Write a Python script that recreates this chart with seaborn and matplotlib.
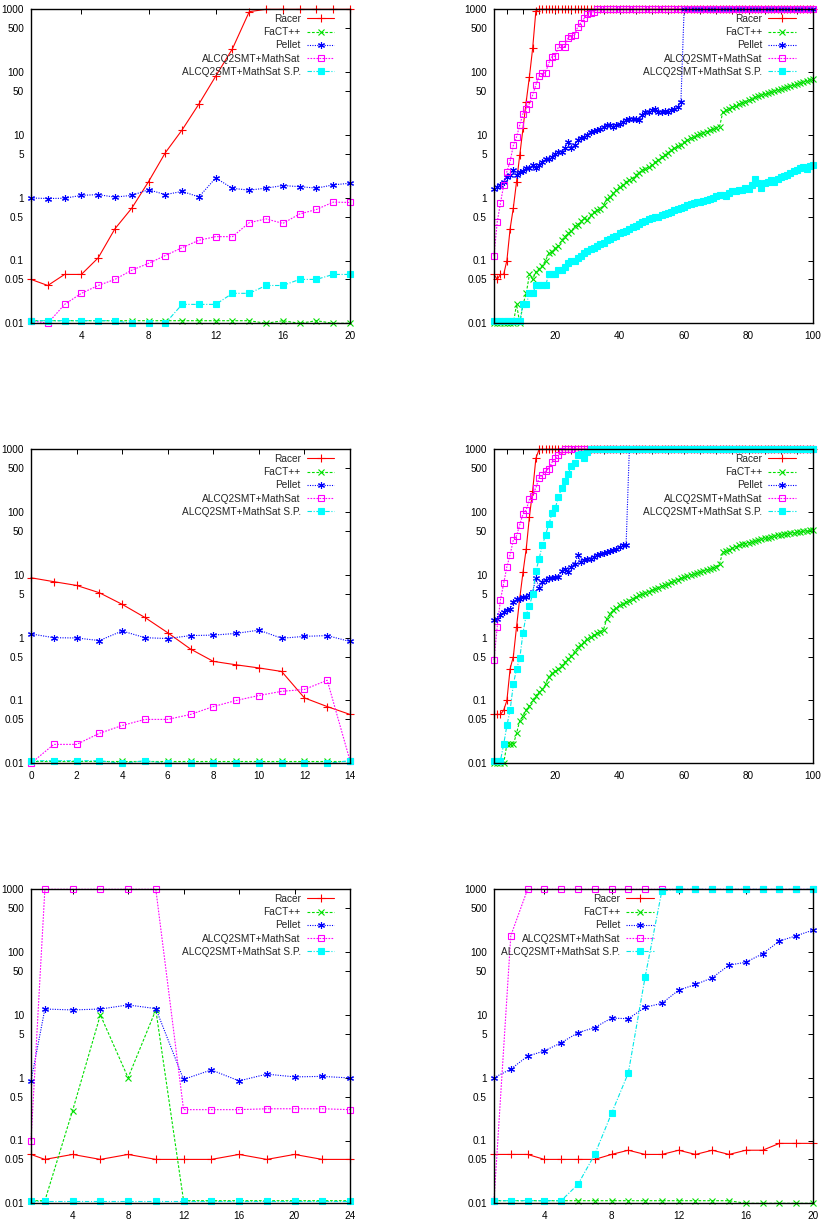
import matplotlib
matplotlib.use("Agg")
import matplotlib.pyplot as plt
from matplotlib.ticker import FixedLocator, FixedFormatter, MultipleLocator, NullLocator
import seaborn as sns

sns.set_style("white")
plt.rcParams["font.family"] = ["Liberation Sans", "DejaVu Sans"]

TOOLS = ["Racer", "FaCT++", "Pellet", "ALCQ2SMT+MathSat", "ALCQ2SMT+MathSat S.P."]
Y_TICKS = [0.01, 0.05, 0.1, 0.5, 1, 5, 10, 50, 100, 500, 1000]
Y_LABELS = ["0.01", "0.05", "0.1", "0.5", "1", "5", "10", "50", "100", "500", "1000"]

# ---------------------------------------------------------------
# panel a (top left)
# ---------------------------------------------------------------
x_a = list(range(1, 21))
racer_a = [0.05, 0.04, 0.06, 0.06, 0.11, 0.32, 0.68, 1.8, 5.2, 12, 31, 86, 236, 917,
           1000, 1000, 1000, 1000, 1000, 1000]
fact_a = [0.011, 0.011, 0.011, 0.011, 0.011, 0.011, 0.011, 0.011, 0.011, 0.011,
          0.011, 0.011, 0.011, 0.011, 0.01, 0.011, 0.01, 0.011, 0.01, 0.01]
pellet_a = [0.99, 0.97, 0.98, 1.09, 1.12, 1.02, 1.09, 1.34, 1.12, 1.26,
            1.03, 2.06, 1.41, 1.32, 1.42, 1.56, 1.5, 1.42, 1.6, 1.7]
mathsat_a = [0.011, 0.01, 0.02, 0.03, 0.04, 0.05, 0.07, 0.09, 0.12, 0.16,
             0.21, 0.24, 0.24, 0.4, 0.46, 0.39, 0.55, 0.65, 0.85, 0.84]
sp_a = [0.011, 0.011, 0.011, 0.011, 0.011, 0.011, 0.01, 0.01, 0.01, 0.02,
        0.02, 0.02, 0.03, 0.03, 0.04, 0.04, 0.05, 0.05, 0.06, 0.06]

# ---------------------------------------------------------------
# panel b (top right)
# ---------------------------------------------------------------
x_b = list(range(1, 101))
racer_b = [0.06, 0.05, 0.06, 0.06, 0.1, 0.32, 0.69, 1.8, 4.8, 12.7, 34, 85, 240, 950] + [1000] * 86
fact_b = [0.01, 0.01, 0.01, 0.01, 0.01, 0.01, 0.01, 0.02, 0.01, 0.02,
          0.03, 0.06, 0.05, 0.066, 0.074, 0.083, 0.1, 0.13, 0.135, 0.16,
          0.17, 0.21, 0.24, 0.27, 0.29, 0.35, 0.37, 0.42, 0.47, 0.44,
          0.53, 0.59, 0.63, 0.67, 0.76, 0.97, 1.03, 1.17, 1.32, 1.5,
          1.6, 1.8, 1.9, 2.0, 2.3, 2.5, 2.75, 2.9, 3.1, 3.3,
          3.7, 4.0, 4.4, 4.8, 5.2, 5.7, 6.1, 6.6, 7.0, 7.6,
          8.2, 8.8, 9.2, 9.8, 10.3, 10.8, 11.2, 11.8, 12.4, 12.9,
          13.5, 23, 24.5, 26, 27.5, 29, 31, 32.5, 34, 35.5,
          37.5, 39.5, 41, 43, 44.5, 46, 48, 50, 52, 54,
          56, 58, 60, 62, 64.5, 67, 70, 72.5, 76, 79]
pellet_b = [1.4, 1.48, 1.58, 1.79, 2.15, 2.28, 2.75, 2.28, 2.58, 2.65,
            2.92, 2.92, 3.3, 2.92, 3.3, 3.7, 4.2, 4.2, 4.5, 5.0,
            5.4, 5.4, 6.1, 7.8, 6.1, 6.9, 8.3, 8.8, 9.3, 9.9,
            11.2, 11.5, 11.9, 12.6, 13.4, 14.3, 14.3, 13.4, 14.3, 15.1,
            16.1, 17.1, 18.2, 18.2, 18.2, 17.1, 20.5, 23.1, 23.1, 24.5,
            26, 23, 23, 24, 23, 25, 26, 28, 33] + [1000] * 41
mathsat_b = [0.12, 0.41, 0.82, 1.57, 2.6, 3.8, 6.8, 9.3, 14.4, 21.9,
             26.3, 31.6, 43, 63, 87, 95, 98, 139, 176, 180,
             254, 276, 254, 353, 375, 389, 528, 612, 718, 843,
             885, 918] + [1000] * 68
sp_b = [0.011, 0.011, 0.011, 0.011, 0.011, 0.011, 0.011, 0.011, 0.011,
        0.02, 0.02, 0.03, 0.03, 0.04, 0.04, 0.04, 0.04, 0.06, 0.06, 0.06,
        0.07, 0.07, 0.08, 0.09, 0.1, 0.1, 0.11, 0.12, 0.13, 0.14,
        0.15, 0.16, 0.17, 0.18, 0.19, 0.21, 0.22, 0.24, 0.25, 0.27,
        0.28, 0.3, 0.32, 0.34, 0.36, 0.38, 0.41, 0.43, 0.45, 0.47,
        0.49, 0.5, 0.53, 0.55, 0.57, 0.6, 0.63, 0.65, 0.68, 0.72,
        0.76, 0.8, 0.82, 0.84, 0.86, 0.88, 0.91, 0.95, 1.0, 1.05,
        1.1, 1.12, 1.05, 1.2, 1.3, 1.3, 1.35, 1.35, 1.45, 1.4,
        1.6, 2.0, 1.7, 1.45, 1.7, 1.8, 1.9, 1.75, 2.0, 2.1,
        2.2, 2.3, 2.5, 2.7, 2.8, 3.0, 3.1, 2.9, 3.2, 3.3]

# ---------------------------------------------------------------
# panel c (middle left)
# ---------------------------------------------------------------
x_c = list(range(0, 15))
racer_c = [9, 7.8, 6.8, 5.2, 3.4, 2.1, 1.2, 0.66, 0.42, 0.37, 0.33, 0.29, 0.11, 0.08, 0.06]
fact_c = [0.011] * 15
pellet_c = [1.15, 1.0, 0.99, 0.9, 1.28, 1.0, 0.97, 1.08, 1.1, 1.17, 1.32, 0.98, 1.05, 1.08, 0.87]
mathsat_c = [0.01, 0.02, 0.02, 0.03, 0.04, 0.05, 0.05, 0.06, 0.08, 0.1, 0.12, 0.14, 0.15, 0.21, 0.011]
sp_c = [0.011, 0.011, 0.011, 0.011, 0.01, 0.011, 0.01, 0.01, 0.01, 0.01, 0.01, 0.01, 0.01, 0.01, 0.011]

# ---------------------------------------------------------------
# panel d (middle right)
# ---------------------------------------------------------------
x_d = list(range(1, 101))
racer_d = [0.06, 0.06, 0.06, 0.07, 0.1, 0.32, 0.5, 1.5, 4.3, 11, 26, 85, 220, 720] + [1000] * 86
fact_d = [0.01, 0.01, 0.01, 0.01, 0.02, 0.02, 0.02, 0.03, 0.048, 0.057,
          0.07, 0.083, 0.1, 0.12, 0.135, 0.15, 0.18, 0.24, 0.27, 0.29,
          0.32, 0.36, 0.41, 0.46, 0.52, 0.59, 0.71, 0.76, 0.86, 0.97,
          1.03, 1.1, 1.17, 1.24, 1.35, 2.0, 2.4, 2.75, 3.0, 3.3,
          3.5, 3.7, 3.9, 4.2, 4.4, 4.7, 4.9, 5.1, 5.4, 5.7,
          6.0, 6.3, 6.6, 6.9, 7.2, 7.6, 8.0, 8.4, 8.8, 9.1,
          9.5, 9.9, 10.3, 10.7, 11.1, 11.6, 12.0, 12.5, 13.0, 13.6,
          15, 23, 24, 25, 26.5, 28, 29.5, 30.5, 31.5, 32.5,
          33.5, 35, 36, 37, 38, 39, 40.5, 41.5, 42.5, 43.5,
          44.5, 45.5, 46.5, 47, 48, 48.5, 49.5, 50, 51, 51.5]
pellet_d = [1.9, 2.0, 2.3, 2.6, 2.75, 2.9, 3.7, 4.1, 4.2, 4.5,
            4.5, 4.8, 5.4, 8.8, 6.1, 7.8, 8.3, 8.8, 8.8, 9.3,
            9.3, 11.5, 12.4, 11.2, 13.4, 15.1, 20.5, 16.1, 17.1, 18.2,
            17.7, 19.4, 20.5, 21.7, 22.5, 23.1, 23.8, 25.3, 26, 27.9,
            29.5, 30] + [1000] * 58
mathsat_d = [0.44, 1.5, 4.0, 7.3, 13.5, 21, 36, 42, 63, 93,
             108, 160, 180, 245, 350, 390, 450, 490, 620, 720,
             810, 950] + [1000] * 78
sp_d = [0.011, 0.011, 0.011, 0.02, 0.04, 0.07, 0.18, 0.32, 0.47, 1.2,
        2.3, 3.2, 5.0, 11.5, 18, 30, 43, 64, 95, 115,
        176, 239, 313, 400, 550, 600, 812, 850, 737, 918] + [1000] * 70

# ---------------------------------------------------------------
# panel e (bottom left)
# ---------------------------------------------------------------
x_e = [1, 2, 4, 6, 8, 10, 12, 14, 16, 18, 20, 22, 24]
racer_e = [0.06, 0.05, 0.06, 0.05, 0.06, 0.05, 0.05, 0.05, 0.06, 0.05, 0.06, 0.05, 0.05]
fact_e = [0.011, 0.011, 0.3, 10, 1, 12, 0.011, 0.011, 0.011, 0.011, 0.011, 0.011, 0.011]
pellet_e = [0.89, 12.4, 12, 12.4, 14.4, 12.6, 0.94, 1.33, 0.89, 1.14, 1.03, 1.05, 0.99]
mathsat_e = [0.1, 1000, 1000, 1000, 1000, 1000, 0.31, 0.31, 0.31, 0.32, 0.32, 0.32, 0.31]
sp_e = [0.011] * 13

# ---------------------------------------------------------------
# panel f (bottom right)
# ---------------------------------------------------------------
x_f = list(range(1, 21))
racer_f = [0.06, 0.06, 0.06, 0.05, 0.05, 0.05, 0.05, 0.06, 0.07, 0.06,
           0.06, 0.07, 0.06, 0.07, 0.06, 0.07, 0.07, 0.09, 0.09, 0.09]
fact_f = [0.011] * 15 + [0.01] * 5
pellet_f = [1.0, 1.37, 2.2, 2.67, 3.6, 5.2, 6.3, 8.9, 8.7, 13.2,
            15.3, 24.8, 30.5, 39, 62, 69, 94, 150, 182, 224]
mathsat_f = [0.011, 182] + [1000] * 18
sp_f = [0.011, 0.011, 0.011, 0.011, 0.011, 0.02, 0.06, 0.27, 1.19, 40,
        950] + [1000] * 9

# ---------------------------------------------------------------
# styles and layout
# ---------------------------------------------------------------
STYLES = [
    dict(color="#ff0000", linestyle="-", marker="+", markersize=5.5, markerfacecolor="#ff0000",
         markeredgecolor="#ff0000"),
    dict(color="#00e000", linestyle=(0, (2.5, 1.5)), marker="x", markersize=4.5,
         markerfacecolor="#00e000", markeredgecolor="#00e000"),
    dict(color="#0000ff", linestyle=(0, (1, 1.2)), marker=(6, 2, 0), markersize=5,
         markerfacecolor="#0000ff", markeredgecolor="#0000ff"),
    dict(color="#ff00ff", linestyle=(0, (1.5, 1.2)), marker="s", markersize=4.5,
         markerfacecolor="none", markeredgecolor="#ff00ff"),
    dict(color="#00e8e8", linestyle=(0, (4, 1.5, 1, 1.5)), marker="s", markersize=4.5,
         markerfacecolor="#00ffff", markeredgecolor="#00ffff"),
]

PANELS = [
    dict(x=x_a, ys=[racer_a, fact_a, pellet_a, mathsat_a, sp_a], xlim=(1, 20),
         xticks=[4, 8, 12, 16, 20], minor=None, leg_x=0.965),
    dict(x=x_b, ys=[racer_b, fact_b, pellet_b, mathsat_b, sp_b], xlim=(1, 100),
         xticks=[20, 40, 60, 80, 100], minor=5, leg_x=0.96),
    dict(x=x_c, ys=[racer_c, fact_c, pellet_c, mathsat_c, sp_c], xlim=(0, 14),
         xticks=[0, 2, 4, 6, 8, 10, 12, 14], minor=None, leg_x=0.965),
    dict(x=x_d, ys=[racer_d, fact_d, pellet_d, mathsat_d, sp_d], xlim=(1, 100),
         xticks=[20, 40, 60, 80, 100], minor=5, leg_x=0.96),
    dict(x=x_e, ys=[racer_e, fact_e, pellet_e, mathsat_e, sp_e], xlim=(1, 24),
         xticks=[4, 8, 12, 16, 20, 24], minor=None, leg_x=0.965),
    dict(x=x_f, ys=[racer_f, fact_f, pellet_f, mathsat_f, sp_f], xlim=(1, 20),
         xticks=[4, 8, 12, 16, 20], minor=None, leg_x=0.515),
]

W, H = 825, 1228
AX_W, AX_H = 319 / W, 314 / H
LEFTS = [31 / W, 494 / W]
BOTTOMS = [1 - 323.3 / H, 1 - 763.3 / H, 1 - 1203.3 / H]

fig = plt.figure(figsize=(W / 100, H / 100), dpi=100)

for i, p in enumerate(PANELS):
    ax = fig.add_axes([LEFTS[i % 2], BOTTOMS[i // 2], AX_W, AX_H])
    ax.set_yscale("log")
    for name, vals, st in zip(TOOLS, p["ys"], STYLES):
        sns.lineplot(x=p["x"], y=vals, ax=ax, label=name, legend=False,
                     estimator=None, sort=False, linewidth=0.8,
                     markeredgewidth=0.8, clip_on=False, **st)

    ax.set_ylim(0.01, 1000)
    ax.set_xlim(*p["xlim"])
    ax.yaxis.set_major_locator(FixedLocator(Y_TICKS))
    ax.yaxis.set_major_formatter(FixedFormatter(Y_LABELS))
    ax.yaxis.set_minor_locator(NullLocator())
    ax.set_xticks(p["xticks"])
    if p["minor"]:
        ax.xaxis.set_minor_locator(MultipleLocator(p["minor"]))
    else:
        ax.xaxis.set_minor_locator(NullLocator())
    ax.tick_params(which="both", direction="in", top=True, right=True,
                   length=3.5, width=0.7, labelsize=7.2, colors="black")
    ax.tick_params(axis="x", pad=5.5)
    ax.tick_params(axis="y", pad=5)
    ax.set_xlabel("")
    ax.set_ylabel("")
    for sp in ax.spines.values():
        sp.set_linewidth(1.0)
        sp.set_color("black")

    leg = ax.legend(loc="upper right", bbox_to_anchor=(p["leg_x"], 1.0),
                    frameon=False, markerfirst=False, fontsize=7.3,
                    handlelength=2.7, handletextpad=0.6, labelspacing=0.32,
                    borderpad=0.45, borderaxespad=0)
    for col in leg._legend_handle_box.get_children():
        col.align = "right"

fig.savefig("out.png", dpi=100)
